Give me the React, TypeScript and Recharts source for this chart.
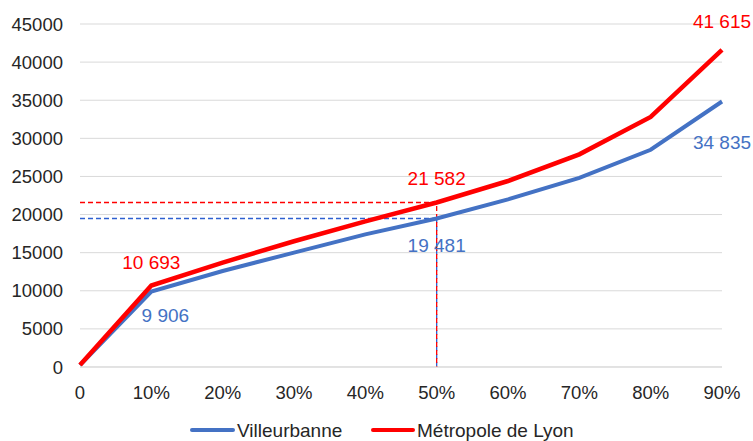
import React from 'react';
import { LineChart, Line, XAxis, YAxis, CartesianGrid, ReferenceLine, LabelList } from 'recharts';

const categories = ['0', '10%', '20%', '30%', '40%', '50%', '60%', '70%', '80%', '90%'];
const villeurbanne = [250, 9906, 12600, 15000, 17400, 19481, 22000, 24800, 28500, 34835];
const metropole = [250, 10693, 13700, 16500, 19100, 21582, 24400, 27900, 32800, 41615];
const yTicks = [0, 5000, 10000, 15000, 20000, 25000, 30000, 35000, 40000, 45000];
const labelledIndexes = [1, 5, 9];
const markerCategory = '50%';
const markerBlue = 19481;
const markerRed = 21582;

const BLUE = '#4472C4';
const RED = '#FF0000';
const FONT = '"Liberation Sans", Arial, sans-serif';

const data = categories.map((c, i) => ({ cat: c, v: villeurbanne[i], m: metropole[i] }));

const fmt = (v: number) => String(v).replace(/\B(?=(\d{3})+(?!\d))/g, ' ');

const redOffsets: Record<number, [number, number]> = { 1: [0, -23], 5: [0, -24], 9: [0, -28] };
const blueOffsets: Record<number, [number, number]> = { 1: [14, 24], 5: [0, 27], 9: [0, 41] };

const makeLabel = (color: string, offsets: Record<number, [number, number]>) => (props: any) => {
  const { x, y, value, index } = props;
  if (!labelledIndexes.includes(index)) return null;
  const [dx, dy] = offsets[index];
  return (
    <text
      x={x + dx}
      y={y + dy}
      fill={color}
      fontSize={19}
      fontFamily={FONT}
      textAnchor="middle"
      dominantBaseline="central"
    >
      {fmt(value)}
    </text>
  );
};

export default function App() {
  return (
    <div style={{ position: 'absolute', left: 0, top: 0, width: 753, height: 441, background: '#fff' }}>
      <LineChart
        width={753}
        height={441}
        data={data}
        margin={{ top: 24, right: 31, left: 0, bottom: 44 }}
        style={{ overflow: 'visible' }}
      >
        <CartesianGrid vertical={false} stroke="#d9d9d9" strokeWidth={1} />
        <XAxis
          dataKey="cat"
          height={30}
          tickSize={0}
          tickMargin={19}
          axisLine={{ stroke: '#d9d9d9' }}
          tickLine={false}
          tick={{ fill: '#262626', fontSize: 18.5, fontFamily: FONT }}
          interval={0}
        />
        <YAxis
          width={80}
          domain={[0, 45000]}
          ticks={yTicks}
          tickSize={0}
          tickMargin={17}
          axisLine={false}
          tickLine={false}
          tick={{ fill: '#262626', fontSize: 18.5, fontFamily: FONT }}
          interval={0}
        />
        <ReferenceLine
          segment={[{ x: categories[0], y: markerRed }, { x: markerCategory, y: markerRed }]}
          stroke={RED}
          strokeWidth={1.3}
          strokeDasharray="5 3"
        />
        <ReferenceLine
          segment={[{ x: categories[0], y: markerBlue }, { x: markerCategory, y: markerBlue }]}
          stroke="#2E5FD0"
          strokeWidth={1.3}
          strokeDasharray="5 3"
        />
        <ReferenceLine
          segment={[{ x: markerCategory, y: 0 }, { x: markerCategory, y: markerBlue }]}
          stroke="#2E5FD0"
          strokeWidth={1.3}
          strokeDasharray="5 3"
        />
        <ReferenceLine
          segment={[{ x: markerCategory, y: 0 }, { x: markerCategory, y: markerRed }]}
          stroke={RED}
          strokeWidth={1.3}
          strokeDasharray="5 3"
          strokeDashoffset={4}
        />
        <Line
          dataKey="v"
          name="Villeurbanne"
          stroke={BLUE}
          strokeWidth={4}
          dot={false}
          activeDot={false}
          isAnimationActive={false}
        >
          <LabelList dataKey="v" content={makeLabel(BLUE, blueOffsets)} />
        </Line>
        <Line
          dataKey="m"
          name="Métropole de Lyon"
          stroke={RED}
          strokeWidth={4.5}
          dot={false}
          activeDot={false}
          isAnimationActive={false}
        >
          <LabelList dataKey="m" content={makeLabel(RED, redOffsets)} />
        </Line>
      </LineChart>
      <svg width={753} height={441} style={{ position: 'absolute', left: 0, top: 0, pointerEvents: 'none' }}>
        <line x1={192} y1={430} x2={233} y2={430} stroke={BLUE} strokeWidth={4} strokeLinecap="round" />
        <text x={237} y={437} fontSize={19} fontFamily={FONT} fill="#262626">Villeurbanne</text>
        <line x1={373} y1={430} x2={413} y2={430} stroke={RED} strokeWidth={4} strokeLinecap="round" />
        <text x={417} y={437} fontSize={19} fontFamily={FONT} fill="#262626">Métropole de Lyon</text>
      </svg>
    </div>
  );
}
